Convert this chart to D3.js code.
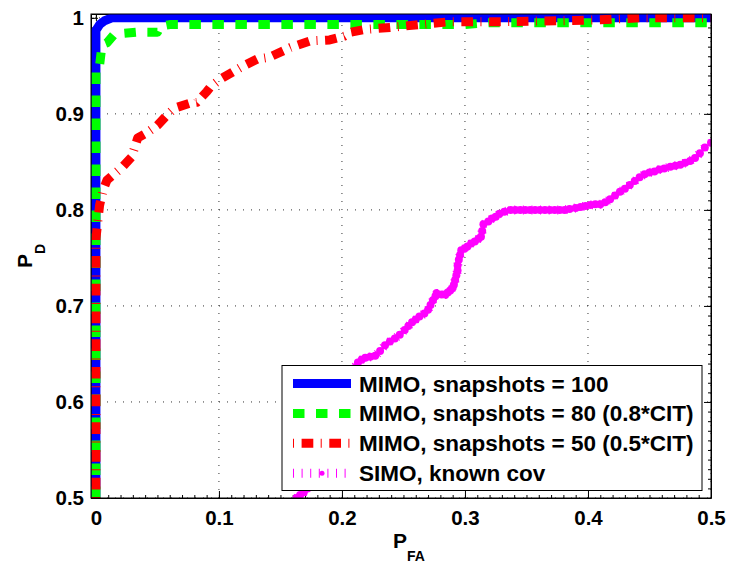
<!DOCTYPE html>
<html>
<head>
<meta charset="utf-8">
<script src="https://cdn.jsdelivr.net/npm/d3@7"></script>
<style>
  body { margin: 0; background: #fff; }
  text { font-family: "Liberation Sans", Arial, sans-serif; font-weight: bold; fill: #000; }
</style>
</head>
<body>
<script>
// tick values
var xTicks = [0, 0.1, 0.2, 0.3, 0.4, 0.5];
var yTicks = [0.5, 0.6, 0.7, 0.8, 0.9, 1];

var legendNames = [
  "MIMO, snapshots = 100",
  "MIMO, snapshots = 80 (0.8*CIT)",
  "MIMO, snapshots = 50 (0.5*CIT)",
  "SIMO, known cov"
];

// ROC curves (PFA, PD)
var mimo100Pfa = [0, 0, 0.003, 0.007, 0.013, 0.5];
var mimo100Pd  = [0.5, 0.987, 0.993, 0.997, 1, 1];

var mimo80Pfa = [0, 0, 0.003, 0.005, 0.009, 0.015, 0.033, 0.05, 0.052, 0.06, 0.2, 0.3, 0.32, 0.5];
var mimo80Pd  = [0.5, 0.95, 0.951, 0.972, 0.974, 0.983, 0.985, 0.985, 0.991, 0.993, 0.993, 0.993, 0.995, 0.995];

var mimo50Pfa = [0, 0, 0.003, 0.006, 0.009, 0.021, 0.029, 0.034, 0.041, 0.05, 0.058, 0.064, 0.076, 0.082,
  0.09, 0.093, 0.101, 0.117, 0.131, 0.141, 0.158, 0.174, 0.19, 0.202, 0.207, 0.219, 0.239, 0.263, 0.288,
  0.33, 0.377, 0.41, 0.442, 0.5];
var mimo50Pd  = [0.5, 0.77, 0.805, 0.821, 0.831, 0.844, 0.855, 0.875, 0.88, 0.888, 0.899, 0.906, 0.911, 0.912,
  0.923, 0.928, 0.936, 0.948, 0.957, 0.959, 0.969, 0.976, 0.977, 0.981, 0.985, 0.988, 0.99, 0.993, 0.996,
  0.996, 0.997, 0.998, 1, 1];

var simoPfa = [0.163, 0.166, 0.169, 0.172, 0.19, 0.205, 0.21, 0.213, 0.216, 0.219, 0.223, 0.227, 0.231, 0.235,
  0.239, 0.243, 0.247, 0.251, 0.254, 0.257, 0.26, 0.263, 0.267, 0.27, 0.272, 0.274, 0.276, 0.277, 0.281, 0.284,
  0.286, 0.288, 0.29, 0.291, 0.292, 0.293, 0.294, 0.294, 0.295, 0.296, 0.297, 0.3, 0.302, 0.305, 0.308, 0.311,
  0.313, 0.314, 0.315, 0.319, 0.322, 0.325, 0.328, 0.332, 0.337, 0.341, 0.345, 0.349, 0.353, 0.357, 0.361,
  0.365, 0.369, 0.373, 0.377, 0.381, 0.385, 0.39, 0.394, 0.398, 0.402, 0.406, 0.41, 0.414, 0.418, 0.422,
  0.426, 0.43, 0.434, 0.438, 0.442, 0.446, 0.45, 0.454, 0.458, 0.462, 0.467, 0.471, 0.475, 0.479, 0.483,
  0.487, 0.491, 0.495, 0.5];
var simoPd  = [0.5, 0.503, 0.506, 0.51, 0.57, 0.62, 0.635, 0.641, 0.644, 0.646, 0.647, 0.648, 0.653, 0.659,
  0.663, 0.666, 0.67, 0.675, 0.679, 0.683, 0.686, 0.689, 0.692, 0.696, 0.701, 0.706, 0.71, 0.713, 0.712, 0.712,
  0.714, 0.716, 0.719, 0.722, 0.727, 0.732, 0.737, 0.742, 0.748, 0.753, 0.758, 0.76, 0.762, 0.765, 0.767, 0.77,
  0.772, 0.778, 0.785, 0.788, 0.791, 0.793, 0.796, 0.798, 0.8, 0.8, 0.8, 0.8, 0.8, 0.8, 0.8,
  0.8, 0.8, 0.8, 0.8, 0.8, 0.801, 0.802, 0.803, 0.804, 0.805, 0.806, 0.806, 0.808, 0.811, 0.815,
  0.819, 0.822, 0.826, 0.83, 0.834, 0.837, 0.839, 0.84, 0.842, 0.843, 0.845, 0.846, 0.847, 0.849, 0.851,
  0.854, 0.859, 0.865, 0.87];

var margin = {top: 14, right: 19, bottom: 67, left: 91},
    width = 730 - margin.left - margin.right,
    height = 565 - margin.top - margin.bottom;

var x = d3.scaleLinear().domain([-0.004, 0.5]).range([0, width]);
var y = d3.scaleLinear().domain([0.5, 1.004]).range([height, 0]);

var svg = d3.select("body").append("svg")
    .attr("width", width + margin.left + margin.right)
    .attr("height", height + margin.top + margin.bottom)
  .append("g")
    .attr("transform", "translate(" + margin.left + "," + margin.top + ")");

svg.append("clipPath").attr("id", "clip")
  .append("rect").attr("width", width).attr("height", height);

// dotted grid
var grid = svg.append("g").attr("stroke", "#333").attr("stroke-width", 1).attr("stroke-dasharray", "1,7");
grid.selectAll(".gx").data(xTicks).enter().append("line")
    .attr("x1", function(d) { return x(d); }).attr("x2", function(d) { return x(d); })
    .attr("y1", height).attr("y2", 0);
grid.selectAll(".gy").data(yTicks).enter().append("line")
    .attr("y1", function(d) { return y(d); }).attr("y2", function(d) { return y(d); })
    .attr("x1", 0).attr("x2", width);

// axes, ticks inward like matlab
var fmt = d3.format("");
var minorX = d3.range(0, 0.5001, 0.01);
var minorY = d3.range(0.5, 1.0001, 0.01);

function minor(g, axis) {
  g.call(axis).call(function(s) { s.select(".domain").remove(); s.selectAll("text").remove(); });
}
svg.append("g").attr("transform", "translate(0," + height + ")")
  .call(function(g) { minor(g, d3.axisBottom(x).tickValues(minorX).tickSize(-3)); });
svg.append("g")
  .call(function(g) { minor(g, d3.axisTop(x).tickValues(minorX).tickSize(-3)); });
svg.append("g")
  .call(function(g) { minor(g, d3.axisLeft(y).tickValues(minorY).tickSize(-3)); });
svg.append("g").attr("transform", "translate(" + width + ",0)")
  .call(function(g) { minor(g, d3.axisRight(y).tickValues(minorY).tickSize(-3)); });

svg.append("g").attr("transform", "translate(0," + height + ")")
  .call(d3.axisBottom(x).tickValues(xTicks).tickFormat(fmt).tickSize(-7).tickSizeOuter(0).tickPadding(12));
svg.append("g")
  .call(d3.axisLeft(y).tickValues(yTicks).tickFormat(fmt).tickSize(-7).tickSizeOuter(0).tickPadding(7));
svg.append("g")
  .call(d3.axisTop(x).tickValues(xTicks).tickFormat("").tickSize(-7).tickSizeOuter(0));
svg.append("g").attr("transform", "translate(" + width + ",0)")
  .call(d3.axisRight(y).tickValues(yTicks).tickFormat("").tickSize(-7).tickSizeOuter(0));

svg.selectAll(".tick text").style("font-size", "20.5px").attr("fill", "#000");

// curves
var line = d3.line()
  .x(function(d) { return x(d[0]); })
  .y(function(d) { return y(d[1]); });

var series = [
  {pfa: mimo100Pfa, pd: mimo100Pd, color: "#0000ff", dash: null, width: 9},
  {pfa: mimo80Pfa, pd: mimo80Pd, color: "#00ff00", dash: "11.5,11.5", width: 9},
  {pfa: mimo50Pfa, pd: mimo50Pd, color: "#ff0000", dash: "1,7.6,11.7,7.4", width: 9},
  {pfa: simoPfa, pd: simoPd, color: "#ff00ff", dash: "1,7.6", width: 9, dots: true}
];

var plot = svg.append("g").attr("clip-path", "url(#clip)");
series.forEach(function(s) {
  var pts = d3.zip(s.pfa, s.pd);
  plot.append("path")
    .datum(pts)
    .attr("d", line)
    .attr("fill", "none")
    .attr("stroke", s.color)
    .attr("stroke-width", s.width)
    .attr("stroke-dasharray", s.dash)
    .attr("stroke-linejoin", "round");
  if (s.dots) {
    plot.append("g").selectAll("circle")
      .data(pts)
      .enter().append("circle")
      .attr("cx", function(d) { return x(d[0]); })
      .attr("cy", function(d) { return y(d[1]); })
      .attr("r", 4)
      .attr("fill", s.color);
  }
});

// box
svg.append("rect").attr("width", width).attr("height", height)
  .attr("fill", "none").attr("stroke", "#000").attr("stroke-width", 1);

// legend
var legend = svg.append("g").attr("transform", "translate(191,351.5)");
legend.append("rect").attr("width", 420).attr("height", 125)
  .attr("fill", "#fff").attr("stroke", "#000").attr("stroke-width", 1);

var rows = legend.selectAll(".row").data(series).enter().append("g")
  .attr("transform", function(d, i) { return "translate(0," + (18 + i * 29.9) + ")"; });
rows.append("line")
  .attr("x1", 11).attr("x2", 69)
  .attr("stroke", function(d) { return d.color; })
  .attr("stroke-width", function(d) { return d.width; })
  .attr("stroke-dasharray", function(d) { return d.dash; });
rows.filter(function(d) { return d.dots; }).append("circle")
  .attr("cx", 40).attr("r", 2.5).attr("fill", function(d) { return d.color; });
rows.append("text")
  .attr("x", 77).attr("y", 8)
  .style("font-size", "22.5px")
  .text(function(d, i) { return legendNames[i]; });

// axis labels
var xl = svg.append("text").attr("x", width / 2 + 8).attr("y", 534)
  .attr("text-anchor", "middle").style("font-size", "21px");
xl.append("tspan").text("P");
xl.append("tspan").attr("dy", 13).style("font-size", "14px").text("FA");

var yl = svg.append("text")
  .attr("transform", "translate(-59," + (height / 2) + ") rotate(-90)")
  .attr("text-anchor", "middle").style("font-size", "21px");
yl.append("tspan").text("P");
yl.append("tspan").attr("dy", 13).style("font-size", "14px").text("D");
</script>
</body>
</html>
